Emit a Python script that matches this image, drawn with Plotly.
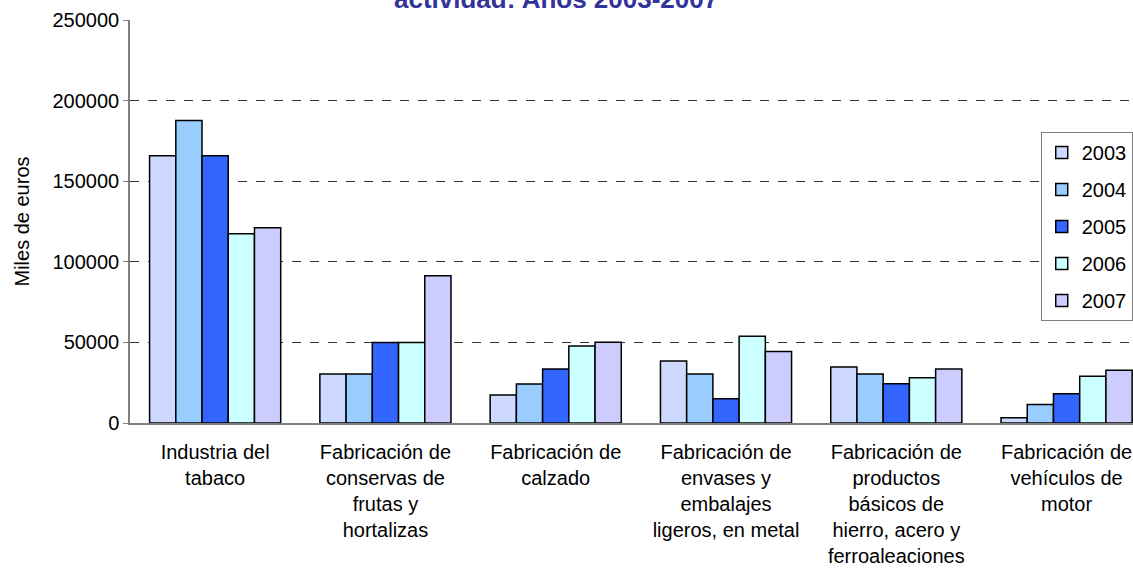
import plotly.graph_objects as go

categorias = [
    "Industria del<br>tabaco",
    "Fabricación de<br>conservas de<br>frutas y<br>hortalizas",
    "Fabricación de<br>calzado",
    "Fabricación de<br>envases y<br>embalajes<br>ligeros, en metal",
    "Fabricación de<br>productos<br>básicos de<br>hierro, acero y<br>ferroaleaciones",
    "Fabricación de<br>vehículos de<br>motor",
]

anios = ["2003", "2004", "2005", "2006", "2007"]

v2003 = [165800, 30400, 17400, 38500, 34800, 3300]
v2004 = [187600, 30400, 24200, 30400, 30400, 11400]
v2005 = [165800, 50000, 33500, 15100, 24400, 18200]
v2006 = [117400, 50000, 47800, 53800, 28000, 29000]
v2007 = [121100, 91300, 50100, 44300, 33500, 32700]

series = [v2003, v2004, v2005, v2006, v2007]
colores = ["#CED9FF", "#99CCFF", "#3366FF", "#CCFFFF", "#CCCCFF"]

fig = go.Figure()
for anio, vals, col in zip(anios, series, colores):
    fig.add_trace(go.Bar(
        x=categorias, y=vals, name=anio, legendgroup=anio,
        marker=dict(color=col, line=dict(color="black", width=1.5)),
    ))

fuente = "Liberation Sans, Arial, sans-serif"

fig.update_layout(
    width=1133, height=574,
    margin=dict(l=130, r=0, t=20, b=151, autoexpand=False),
    plot_bgcolor="white", paper_bgcolor="white",
    barmode="group", bargap=0.23, bargroupgap=0,
    font=dict(family=fuente, size=20, color="black"),
    legend=dict(
        x=0.908, y=0.722, xanchor="left", yanchor="top",
        bgcolor="white", bordercolor="#808080", borderwidth=1,
        font=dict(size=20), tracegroupgap=8,
    ),
    xaxis=dict(
        range=[-0.5, 5.39], showline=True, linecolor="#808080", linewidth=1.5,
        ticks="", tickfont=dict(size=20), showgrid=False,
        automargin=False, ticklabelstandoff=10,
    ),
    yaxis=dict(
        range=[0, 250000], dtick=50000, tickformat="d",
        showline=True, linecolor="#808080", linewidth=1.5,
        ticks="outside", ticklen=5, tickcolor="#808080",
        showgrid=True, gridcolor="#333333", griddash="dash", gridwidth=1,
        zeroline=False, tickfont=dict(size=20), automargin=False,
        title=dict(text="Miles de euros", font=dict(size=20), standoff=18),
    ),
)

fig.add_annotation(
    text="<b>actividad: Años 2003-2007</b>",
    xref="paper", yref="paper", x=0.425, y=1, yanchor="bottom", yshift=4,
    showarrow=False, font=dict(size=26, color="#333399", family=fuente),
)

fig.write_html("out.html", config={"displayModeBar": False},
               post_script="document.body.style.margin='0';")
